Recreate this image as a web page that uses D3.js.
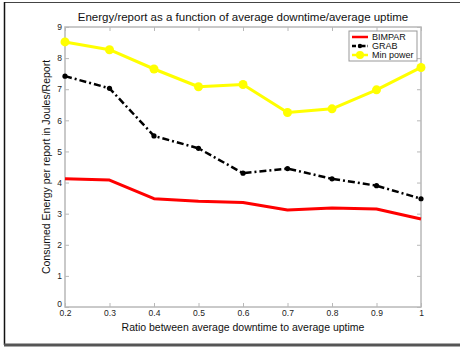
<!DOCTYPE html>
<html>
<head>
<meta charset="utf-8">
<script src="https://cdn.jsdelivr.net/npm/d3@7"></script>
<style>
  html, body { margin: 0; padding: 0; background: #fff; }
  svg { display: block; font-family: "Liberation Sans", Arial, Helvetica, sans-serif; }
</style>
</head>
<body>
<svg id="chart" width="460" height="350"></svg>
<script>
// Ratio of average downtime to average uptime
const ratios = [0.2, 0.3, 0.4, 0.5, 0.6, 0.7, 0.8, 0.9, 1.0];

// Consumed energy per report (Joules/Report)
const bimpar   = [4.12, 4.08, 3.48, 3.40, 3.36, 3.12, 3.18, 3.15, 2.83];
const grab     = [7.42, 7.03, 5.50, 5.10, 4.30, 4.45, 4.12, 3.90, 3.48];
const minPower = [8.52, 8.27, 7.65, 7.08, 7.15, 6.25, 6.37, 6.98, 7.70];

const xTicks = [0.2, 0.3, 0.4, 0.5, 0.6, 0.7, 0.8, 0.9, 1];
const yTicks = [0, 1, 2, 3, 4, 5, 6, 7, 8, 9];

const seriesNames = ["BIMPAR", "GRAB", "Min power"];

const svg = d3.select("#chart");
const plot = { left: 65, right: 421, top: 27, bottom: 307 };

// Figure frame
svg.append("line").attr("x1", 4).attr("x2", 460).attr("y1", 2.5).attr("y2", 2.5)
  .attr("stroke", "#444").attr("stroke-width", 1);
svg.append("line").attr("x1", 4.5).attr("x2", 4.5).attr("y1", 2).attr("y2", 345)
  .attr("stroke", "#111").attr("stroke-width", 1.5);
svg.append("rect").attr("x", 4).attr("y", 343.5).attr("width", 456).attr("height", 3)
  .attr("fill", "#555");

const x = d3.scaleLinear().domain([0.2, 1]).range([plot.left, plot.right]);
const y = d3.scaleLinear().domain([0, 9]).range([plot.bottom, plot.top]);

const axisColor = "#b8b8b8";

// Plot box
svg.append("rect")
  .attr("x", plot.left).attr("y", plot.top)
  .attr("width", plot.right - plot.left).attr("height", plot.bottom - plot.top)
  .attr("fill", "none").attr("stroke", axisColor).attr("stroke-width", 1.5);

// Axes with inward ticks
function styleAxis(g) {
  g.select(".domain").remove();
  g.selectAll(".tick line").attr("stroke", axisColor).attr("stroke-width", 1);
  g.selectAll(".tick text").attr("fill", "#222").attr("font-size", 8.5);
}

svg.append("g").attr("transform", `translate(0,${plot.bottom})`)
  .call(d3.axisBottom(x).tickValues(xTicks).tickFormat(d => String(d)).tickSizeInner(-4).tickPadding(3))
  .call(styleAxis);
svg.append("g").attr("transform", `translate(0,${plot.top})`)
  .call(d3.axisTop(x).tickValues(xTicks).tickFormat("").tickSizeInner(-4))
  .call(styleAxis);
svg.append("g").attr("transform", `translate(${plot.left},0)`)
  .call(d3.axisLeft(y).tickValues(yTicks).tickFormat(d3.format("d")).tickSizeInner(-4).tickPadding(3))
  .call(styleAxis);
svg.append("g").attr("transform", `translate(${plot.right},0)`)
  .call(d3.axisRight(y).tickValues(yTicks).tickFormat("").tickSizeInner(-4))
  .call(styleAxis);

// Shift the "0" label up a little, as MATLAB places it above the x labels
svg.selectAll("g.tick text").filter(function() { return this.textContent === "0"; })
  .attr("dy", "-0.1em");

const line = d3.line().x((d, i) => x(ratios[i])).y(d => y(d));

// BIMPAR: solid red
svg.append("path").datum(bimpar).attr("d", line)
  .attr("fill", "none").attr("stroke", "#ff0000").attr("stroke-width", 3)
  .attr("stroke-linejoin", "round");

// GRAB: black dash-dot with point markers
svg.append("path").datum(grab).attr("d", line)
  .attr("fill", "none").attr("stroke", "#000").attr("stroke-width", 2.5)
  .attr("stroke-dasharray", "7,3,2,3");
svg.selectAll("circle.grab").data(grab).join("circle").attr("class", "grab")
  .attr("cx", (d, i) => x(ratios[i])).attr("cy", d => y(d)).attr("r", 2.6)
  .attr("fill", "#000");

// Min power: yellow with circle markers
svg.append("path").datum(minPower).attr("d", line)
  .attr("fill", "none").attr("stroke", "#ffff00").attr("stroke-width", 3)
  .attr("stroke-linejoin", "round");
svg.selectAll("circle.minp").data(minPower).join("circle").attr("class", "minp")
  .attr("cx", (d, i) => x(ratios[i])).attr("cy", d => y(d)).attr("r", 4.5)
  .attr("fill", "#ffff00");

// Title and axis labels
svg.append("text").attr("x", (plot.left + plot.right) / 2).attr("y", 21)
  .attr("text-anchor", "middle").attr("font-size", 11.5).attr("fill", "#111")
  .text("Energy/report as a function of average downtime/average uptime");
svg.append("text").attr("x", (plot.left + plot.right) / 2).attr("y", 331)
  .attr("text-anchor", "middle").attr("font-size", 10.5).attr("fill", "#111")
  .text("Ratio between average downtime to average uptime");
svg.append("text")
  .attr("transform", `translate(50,${(plot.top + plot.bottom) / 2}) rotate(-90)`)
  .attr("text-anchor", "middle").attr("font-size", 10.5).attr("fill", "#111")
  .text("Consumed Energy per report in Joules/Report");

// Legend
const lg = svg.append("g").attr("transform", "translate(349,31)");
lg.append("rect").attr("width", 68).attr("height", 30)
  .attr("fill", "#fff").attr("stroke", "#999").attr("stroke-width", 1);
const legendStyles = [
  { color: "#ff0000", width: 2.5, dash: null, marker: null },
  { color: "#000", width: 2.5, dash: "4,2,1.5,2", marker: 2.2 },
  { color: "#ffff00", width: 2.5, dash: null, marker: 4 }
];
seriesNames.forEach((name, i) => {
  const s = legendStyles[i];
  const yy = 6 + i * 9;
  const l = lg.append("line").attr("x1", 3).attr("x2", 19).attr("y1", yy).attr("y2", yy)
    .attr("stroke", s.color).attr("stroke-width", s.width);
  if (s.dash) l.attr("stroke-dasharray", s.dash);
  if (s.marker) lg.append("circle").attr("cx", 11).attr("cy", yy).attr("r", s.marker).attr("fill", s.color);
  lg.append("text").attr("x", 23).attr("y", yy + 3.2).attr("font-size", 9).attr("fill", "#111").text(name);
});
</script>
</body>
</html>
